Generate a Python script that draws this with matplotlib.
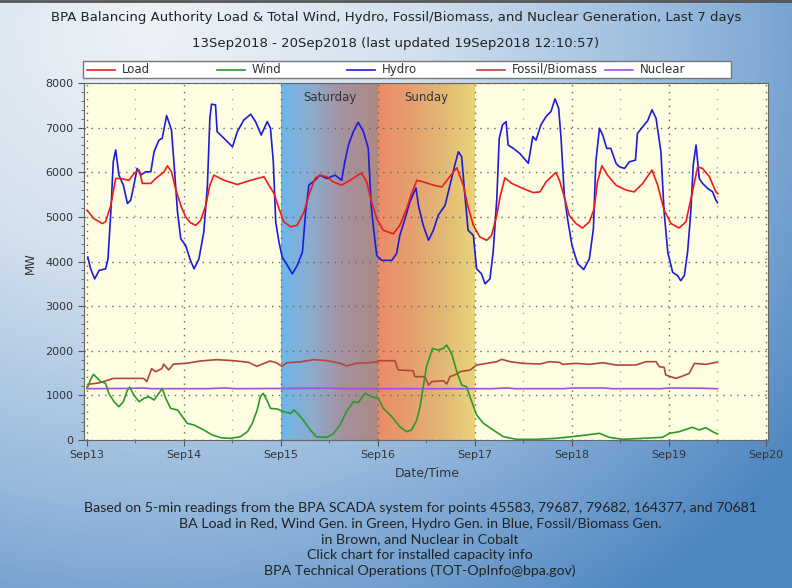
import numpy as np
import matplotlib.pyplot as plt
from matplotlib.colors import LinearSegmentedColormap
from matplotlib.lines import Line2D
from matplotlib.patches import Rectangle

# hours since 13Sep2018 00:00 and MW values
load_pts = [(0.0, 5150), (1.7, 4960), (3.8, 4850), (4.6, 4890), (5.9, 5260), (7.1, 5860), (8.3, 5860),
            (10.4, 5820), (11.6, 5970), (12.9, 6050), (13.7, 5750), (15.8, 5750), (17.0, 5860), (19.1, 6010),
            (19.9, 6145), (20.9, 6010), (21.9, 5635), (23.2, 5260), (24.4, 5000), (25.6, 4870), (26.9, 4810),
            (28.1, 4920), (29.4, 5260), (30.4, 5710), (31.4, 5935), (33.9, 5820), (37.2, 5725), (40.5, 5820),
            (43.8, 5900), (45.0, 5710), (46.3, 5520), (47.5, 5185), (48.7, 4890), (50.4, 4775), (52.0, 4810),
            (53.7, 5110), (54.9, 5485), (56.4, 5860), (57.6, 5935), (59.3, 5900), (60.9, 5785), (63.0, 5710),
            (65.1, 5820), (67.9, 5985), (69.2, 5785), (70.4, 5335), (71.7, 4960), (73.3, 4700), (75.8, 4620),
            (77.4, 4810), (79.1, 5185), (80.3, 5520), (81.6, 5820), (83.2, 5785), (85.7, 5710), (87.8, 5670),
            (89.4, 5860), (91.5, 6100), (93.1, 5710), (94.3, 5220), (95.6, 4810), (97.2, 4550), (98.9, 4475),
            (100.1, 4585), (101.4, 5035), (102.2, 5450), (103.4, 5875), (105.1, 5750), (107.9, 5635),
            (110.4, 5545), (112.1, 5560), (113.6, 5785), (116.0, 5995), (116.9, 5820), (118.1, 5450),
            (119.3, 5035), (121.0, 4850), (122.6, 4750), (124.3, 4890), (125.5, 5185), (126.3, 5785),
            (127.4, 6145), (128.8, 5935), (130.9, 5710), (133.4, 5600), (135.4, 5560), (137.5, 5750),
            (139.8, 6050), (141.2, 5710), (142.8, 5150), (144.5, 4850), (146.5, 4750), (148.2, 4890),
            (149.8, 5560), (151.1, 6120), (152.3, 6085), (154.0, 5900), (155.6, 5560), (156.1, 5520)]

wind_pts = [(0.2, 1195), (0.9, 1359), (1.6, 1471), (2.6, 1381), (3.4, 1307), (4.6, 1270), (5.4, 1045),
            (6.7, 859), (7.9, 747), (9.0, 859), (10.0, 1120), (10.6, 1180), (11.6, 1008), (12.9, 859),
            (14.1, 933), (15.3, 971), (16.6, 896), (17.8, 1045), (18.6, 1157), (19.5, 933), (20.7, 709),
            (22.4, 672), (23.6, 523), (24.8, 373), (26.5, 336), (28.9, 224), (31.0, 112), (33.1, 52),
            (35.5, 37), (38.0, 75), (39.7, 187), (40.9, 373), (42.1, 672), (42.9, 971), (43.6, 1045),
            (44.5, 896), (45.4, 709), (47.1, 694), (48.7, 635), (50.4, 597), (51.2, 672), (52.5, 560),
            (54.1, 373), (55.2, 230), (56.8, 70), (59.3, 60), (60.9, 134), (62.6, 336), (64.2, 635),
            (65.9, 859), (67.1, 836), (68.8, 1045), (70.4, 971), (72.1, 933), (73.3, 709), (75.4, 523),
            (77.4, 299), (79.1, 187), (80.3, 224), (81.6, 448), (82.4, 747), (83.2, 1195), (83.6, 1419),
            (84.0, 1643), (84.7, 1829), (85.5, 2053), (86.9, 2016), (88.2, 2053), (89.0, 2128), (90.2, 1941),
            (91.5, 1531), (92.7, 1232), (93.9, 1195), (95.2, 859), (96.4, 560), (98.1, 373), (100.5, 224),
            (103.0, 75), (106.3, 15), (111.1, 15), (116.0, 37), (120.1, 75), (123.5, 112), (126.8, 149),
            (129.2, 60), (132.5, 15), (137.5, 37), (142.4, 60), (144.1, 149), (146.5, 187), (149.8, 284),
            (151.5, 224), (153.1, 276), (154.8, 187), (156.0, 134)]

hydro_pts = [(0.2, 4100), (0.9, 3835), (1.9, 3610), (3.0, 3800), (4.6, 3835), (5.2, 4060), (5.9, 5110),
             (6.5, 6235), (7.1, 6500), (7.9, 5935), (9.0, 5710), (10.0, 5300), (10.8, 5370), (11.6, 5710),
             (12.4, 6085), (13.3, 5935), (14.5, 6010), (15.8, 6010), (16.6, 6460), (17.8, 6720), (18.6, 6760),
             (19.7, 7270), (20.9, 6950), (21.5, 6235), (22.4, 5110), (23.2, 4510), (24.4, 4360), (25.6, 4025),
             (26.5, 3835), (27.7, 4060), (28.9, 4660), (29.8, 5710), (30.4, 7210), (30.8, 7525), (31.8, 7510),
             (32.2, 6910), (33.9, 6760), (36.0, 6570), (37.2, 6910), (38.8, 7170), (40.5, 7300), (41.7, 7135),
             (43.1, 6835), (44.6, 7135), (45.4, 6985), (46.1, 6235), (46.7, 4885), (47.5, 4435), (48.3, 4100),
             (49.6, 3910), (50.8, 3725), (52.0, 3910), (53.3, 4210), (54.1, 5110), (54.9, 5710), (56.4, 5820),
             (57.6, 5935), (59.3, 5860), (61.4, 5935), (63.0, 5820), (63.8, 6235), (64.7, 6610), (65.9, 6910),
             (67.1, 7120), (68.4, 6910), (69.6, 6535), (70.3, 5260), (71.0, 4660), (71.7, 4135), (72.9, 4025),
             (75.4, 4025), (76.6, 4175), (77.4, 4585), (78.7, 4960), (79.9, 5335), (81.4, 5650), (82.0, 5260),
             (83.2, 4810), (84.5, 4475), (85.7, 4700), (86.9, 5035), (88.6, 5260), (89.8, 5710), (91.0, 6160),
             (91.9, 6460), (92.7, 6350), (93.5, 5485), (94.3, 4700), (95.6, 4585), (96.4, 3835), (97.6, 3725),
             (98.5, 3500), (99.7, 3610), (100.5, 4210), (101.4, 5410), (102.0, 6760), (102.8, 7060),
             (103.7, 7135), (104.2, 6610), (105.5, 6535), (107.1, 6420), (109.2, 6200), (110.3, 6800),
             (111.1, 6720), (112.3, 7060), (113.6, 7250), (114.8, 7360), (115.8, 7645), (116.7, 7435),
             (117.3, 6760), (118.1, 5485), (118.9, 4960), (120.0, 4360), (121.4, 3950), (122.9, 3820),
             (124.3, 4060), (125.3, 4735), (125.9, 6235), (126.8, 6985), (127.6, 6835), (128.6, 6535),
             (129.6, 6535), (130.9, 6200), (131.7, 6125), (133.0, 6085), (134.2, 6235), (135.7, 6270),
             (136.2, 6870), (137.5, 7020), (138.7, 7150), (139.8, 7400), (140.8, 7210), (142.0, 6460),
             (142.8, 5110), (143.7, 4210), (144.9, 3760), (146.1, 3685), (146.9, 3570), (147.8, 3685),
             (148.6, 4210), (149.4, 5110), (150.0, 6160), (150.7, 6610), (151.5, 5860), (152.3, 5750),
             (153.6, 5635), (154.8, 5560), (155.6, 5375), (156.0, 5320)]

fossil_pts = [(0.0, 1180), (0.5, 1250), (3.0, 1280), (5.5, 1350), (6.5, 1380), (14.0, 1380), (14.8, 1310),
              (16.0, 1600), (17.0, 1530), (18.5, 1600), (19.0, 1700), (20.2, 1570), (21.4, 1700), (24.7, 1720),
              (28.0, 1770), (32.0, 1800), (36.0, 1780), (40.0, 1740), (42.0, 1650), (43.6, 1710), (45.3, 1770),
              (46.9, 1730), (48.2, 1650), (49.4, 1730), (52.7, 1750), (56.0, 1800), (59.3, 1780), (62.6, 1720),
              (64.2, 1660), (66.7, 1720), (69.2, 1730), (71.7, 1750), (72.1, 1777), (76.2, 1777), (77.0, 1568),
              (80.7, 1553), (81.1, 1419), (83.6, 1419), (84.5, 1232), (85.3, 1307), (88.2, 1329), (89.0, 1254),
              (89.8, 1419), (91.5, 1478), (92.3, 1531), (94.8, 1568), (96.4, 1680), (98.9, 1717), (101.4, 1755),
              (102.6, 1807), (104.7, 1755), (107.9, 1717), (112.1, 1702), (114.4, 1755), (116.9, 1740),
              (117.7, 1695), (121.0, 1717), (124.3, 1695), (127.6, 1732), (130.9, 1680), (135.8, 1680),
              (138.3, 1755), (140.8, 1755), (141.6, 1643), (142.8, 1628), (143.2, 1456), (145.7, 1381),
              (147.4, 1434), (149.0, 1493), (150.3, 1717), (153.1, 1695), (155.6, 1740), (156.0, 1740)]

nuclear_pts = [(0.0, 1150), (10.0, 1155), (14.0, 1165), (16.0, 1150), (30.0, 1150), (34.0, 1165), (37.0, 1150),
               (60.0, 1160), (64.0, 1150), (100.0, 1150), (104.0, 1165), (106.0, 1150), (118.0, 1150),
               (120.0, 1165), (128.0, 1165), (130.0, 1150), (142.0, 1150), (144.0, 1165), (152.0, 1160),
               (156.0, 1150)]

day_ticks = [0, 24, 48, 72, 96, 120, 144, 168]
day_labels = ["Sep13", "Sep14", "Sep15", "Sep16", "Sep17", "Sep18", "Sep19", "Sep20"]
weekend = [("Saturday", 48, 72), ("Sunday", 72, 96)]

W, H = 792, 588
fig = plt.figure(figsize=(W / 100, H / 100), dpi=100)

# blue page background
bg = fig.add_axes([0, 0, 1, 1], zorder=-10)
yy, xx = np.mgrid[0:H, 0:W]
dist = np.sqrt(((xx - 150) / 700.0) ** 2 + ((yy - 30) / 620.0) ** 2)
bg_cmap = LinearSegmentedColormap.from_list("bg", ["#eef2f7", "#d2e0ee", "#95b8dc", "#4e86c1"])
bg.imshow(np.clip(dist / 1.15, 0, 1), cmap=bg_cmap, aspect="auto")
bg.axis("off")
fig.add_artist(Line2D([0, 1], [1 - 1 / H, 1 - 1 / H], color="#555555", lw=2))

ax = fig.add_axes([84 / W, 148 / H, 684 / W, 357 / H])
ax.set_facecolor("#fefde1")

sat_cmap = LinearSegmentedColormap.from_list("sat", ["#6cb7ec", "#8eaacb", "#a6909c", "#ad8a85"])
sun_cmap = LinearSegmentedColormap.from_list("sun", ["#eb8c68", "#e69f6e", "#e2b874", "#e9d47c"])
for (name, start, end), cm in zip(weekend, [sat_cmap, sun_cmap]):
    ax.imshow(np.linspace(0, 1, 256)[None, :], cmap=cm, aspect="auto",
              extent=[start, end, 0, 8000], zorder=0.2)
    ax.text((start + end) / 2, 7680, name, ha="center", va="center", fontsize=8.5, color="#333333")

series = [("Load", load_pts, "#ee1c1c", 4), ("Wind", wind_pts, "#2a9a2a", 3),
          ("Hydro", hydro_pts, "#1c1cdc", 3.5), ("Fossil/Biomass", fossil_pts, "#b0463c", 2.5),
          ("Nuclear", nuclear_pts, "#a24ee0", 2)]
for name, pts, col, z in series:
    h, mw = zip(*pts)
    ax.plot(h, mw, color=col, lw=1.2, label=name, zorder=z)

ax.set_xlim(-0.74, 168.5)
ax.set_ylim(0, 8000)
ax.set_xticks(day_ticks)
ax.set_xticklabels(day_labels)
ax.set_xticks(np.arange(12, 168, 24), minor=True)
ax.set_yticks(np.arange(0, 8001, 1000))
ax.set_yticks(np.arange(0, 8001, 200), minor=True)
ax.tick_params(which="both", direction="out", colors="#555555", labelcolor="#333333", labelsize=8)
ax.tick_params(which="major", length=4)
ax.tick_params(which="minor", length=2)
ax.set_axisbelow(True)
ax.grid(which="major", color="#666666", linestyle=(0, (1, 4)), linewidth=1.0)
ax.grid(which="minor", axis="x", color="#aaaaaa", linestyle=(0, (1, 6)), linewidth=1.0)
for sp in ax.spines.values():
    sp.set_color("#666666")

# legend box drawn by hand so the entries sit where the original has them
fig.add_artist(Rectangle((83 / W, 1 - 78 / H), 648 / W, 17 / H, facecolor="white",
                         edgecolor="#777777", lw=1, transform=fig.transFigure))
leg_x = [87, 217, 347, 477, 605]
for (name, pts, col, z), x0 in zip(series, leg_x):
    fig.add_artist(Line2D([x0 / W, (x0 + 28) / W], [1 - 69.5 / H] * 2, color=col, lw=1.2))
    fig.text((x0 + 35) / W, 1 - 69.5 / H, name, ha="left", va="center", fontsize=8.5, color="#333333")

fig.text(0.5, 1 - 18 / H, "BPA Balancing Authority Load & Total Wind, Hydro, Fossil/Biomass, and Nuclear "
         "Generation, Last 7 days", ha="center", va="center", fontsize=9.5, color="#222222")
fig.text(0.5, 1 - 43 / H, "13Sep2018 - 20Sep2018 (last updated 19Sep2018 12:10:57)",
         ha="center", va="center", fontsize=9.5, color="#222222")
fig.text(30 / W, 1 - 263 / H, "MW", rotation=90, ha="center", va="center", fontsize=8.5, color="#333333")
fig.text(427 / W, 1 - 473 / H, "Date/Time", ha="center", va="center", fontsize=9, color="#333333")

notes = ["Based on 5-min readings from the BPA SCADA system for points 45583, 79687, 79682, 164377, and 70681",
         "BA Load in Red, Wind Gen. in Green, Hydro Gen. in Blue, Fossil/Biomass Gen.",
         "in Brown, and Nuclear in Cobalt",
         "Click chart for installed capacity info",
         "BPA Technical Operations (TOT-OpInfo@bpa.gov)"]
for i, line in enumerate(notes):
    fig.text(420 / W, 1 - (508 + 15.8 * i) / H, line, ha="center", va="center",
             fontsize=10.2, family="Lato", color="#222222")

fig.savefig("out.png", dpi=100)
